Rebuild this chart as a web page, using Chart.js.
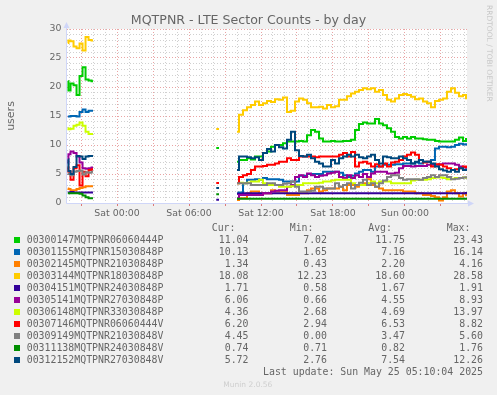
<!DOCTYPE html>
<html><head><meta charset="utf-8">
<script src="https://cdn.jsdelivr.net/npm/chart.js@4/dist/chart.umd.min.js"></script>
<style>
html,body{margin:0;padding:0;background:#f0f0f0;}
#wrap{position:relative;width:497px;height:395px;overflow:hidden;background:#f0f0f0;}
canvas{position:absolute;left:0;top:0;}
.t{position:absolute;white-space:pre;color:#666;}
.mono{font-family:"DejaVu Sans Mono",monospace;font-size:9.9px;line-height:12px;}
.sq{position:absolute;width:6px;height:6px;}
</style></head><body>
<div id="wrap">
<canvas id="c" width="497" height="395"></canvas>
<div class="t" style="left:0;width:497px;text-align:center;top:12px;font-family:'DejaVu Sans';font-size:12.6px;line-height:15px;">MQTPNR - LTE Sector Counts - by day</div>
<div class="t" style="left:493.5px;top:5px;transform-origin:0 0;transform:rotate(90deg);font-family:'DejaVu Sans';font-size:7.5px;line-height:9px;color:#c8c8c8;">RRDTOOL / TOBI OETIKER</div>
<div id="legend"></div>
<div class="t" style="left:223.3px;top:380px;font-family:'DejaVu Sans';font-size:7.5px;line-height:9px;color:#cfcfcf;">Munin 2.0.56</div>
</div>
<script>
// hours relative to Sat 00:00 (gaps between the three runs of data use null values)
const times = [-4.1,-4,-3.75,-3.5,-3.25,-3,-2.75,-2.5,-2.25,-2, 3, 8.27,8.5, 9,
 10,10.33,10.67,11,11.33,11.67,12,12.33,12.67,13,13.33,13.67,14,14.33,14.67,15,15.33,15.67,16,16.33,16.67,17,17.33,17.67,18,18.33,18.67,19,19.33,19.67,20,20.33,20.67,21,
 21.33,21.67,22,22.33,22.67,23,23.33,23.67,24,24.33,24.67,25,25.33,25.67,26,26.33,26.67,27,27.33,27.67,28,28.33,28.67,29,29.17];

const seriesNames = ["00300147MQTPNR06060444P","00301155MQTPNR15030848P","00302145MQTPNR21030848P","00303144MQTPNR18030848P","00304151MQTPNR24030848P","00305141MQTPNR27030848P","00306148MQTPNR33030848P","00307146MQTPNR06060444V","00309149MQTPNR21030848V","00311138MQTPNR24030848V","00312152MQTPNR27030848V"];
const seriesColors = ["#00CC00","#0066B3","#FF8000","#FFCC00","#330099","#990099","#CCFF00","#FF0000","#808080","#008F00","#00487D"];

const s00300147 = [21.0,19.4,20.6,20.3,18.6,21.9,23.4,21.3,21.1,21.0, null, 9.5,9.5, null,
 7.1,7.4,7.4,7.7,7.5,8.0,8.0,8.6,8.9,9.7,10.0,10.0,10.3,10.6,10.6,10.6,10.7,10.6,11.7,12.6,12.3,11.1,10.6,10.6,10.7,10.6,10.6,10.7,10.7,10.9,12.6,13.6,13.9,13.7,
 13.7,14.5,13.7,13.4,12.9,12.3,11.4,11.1,11.4,11.1,11.4,11.1,11.1,11.0,10.9,10.9,10.7,10.6,10.6,10.6,10.6,10.9,11.3,10.7,11.04];
const s00301155 = [14.9,14.9,15.0,15.0,14.9,15.7,16.1,15.7,15.9,15.9, null, null,null, null,
 1.7,1.8,3.4,4.0,4.0,4.1,4.0,4.3,4.1,4.1,4.1,4.0,3.7,3.7,3.7,3.7,4.7,4.7,5.0,5.0,5.0,5.0,5.4,5.4,5.4,5.4,5.2,4.8,4.5,4.7,5.1,5.4,5.7,5.7,
 5.4,6.3,6.3,6.6,6.6,6.6,6.7,6.7,6.8,6.8,6.8,7.0,6.8,7.1,7.1,7.4,9.4,9.7,9.7,9.6,9.7,10.0,10.2,10.1,10.13];
const s00302145 = [2.5,2.4,2.2,2.2,2.4,2.6,2.7,2.9,2.9,2.9, null, null,null, null,
 0.5,0.8,0.8,1.7,2.0,2.0,1.7,1.7,1.7,2.2,2.0,2.0,2.0,1.4,1.4,1.4,1.7,1.7,2.2,2.5,2.5,2.0,2.2,2.5,2.5,2.5,2.8,2.2,3.1,3.1,2.8,3.1,3.4,4.1,
 3.1,2.8,2.5,2.2,2.2,2.2,2.2,2.2,2.0,2.0,2.0,1.7,1.7,1.4,1.4,1.2,1.0,0.45,1.0,2.0,2.2,1.7,1.1,1.7,1.34];
const s00303144 = [27.6,28.0,27.9,27.0,26.7,27.5,26.3,28.6,28.1,28.0, null, 12.76,12.76, null,
 12.3,15.2,16.0,16.5,16.9,17.5,16.9,17.2,17.6,17.4,17.9,17.8,18.2,15.7,15.9,17.5,18.0,17.8,17.2,16.5,16.5,16.6,16.3,16.9,16.5,16.7,17.8,17.8,18.4,18.9,19.2,19.5,19.8,19.6,
 19.8,19.2,19.5,18.6,17.8,17.5,18.0,18.6,18.8,18.6,18.3,17.9,18.0,17.5,17.2,16.5,17.6,17.8,18.0,19.2,19.8,19.0,18.4,18.6,18.08];
const s00304151 = [1.8,1.8,1.9,1.8,1.8,1.8,1.8,1.8,1.8,1.8, null, 0.58,0.58, null,
 1.6,1.6,1.7,1.7,1.7,1.7,1.7,1.7,1.7,1.7,1.7,1.7,1.7,1.7,1.7,1.7,1.7,1.7,1.7,1.7,1.7,1.7,1.7,1.7,1.7,1.7,1.7,1.7,1.7,1.7,1.7,1.7,1.7,1.7,
 1.7,1.7,1.7,1.7,1.7,1.7,1.7,1.7,1.7,1.7,1.7,1.7,1.7,1.7,1.7,1.7,1.7,1.7,1.7,1.7,1.7,1.7,1.7,1.7,1.71];
const s00305141 = [6.8,8.4,8.9,8.6,8.0,7.0,6.0,5.9,6.0,6.1, null, null,null, null,
 0.8,1.4,1.4,1.4,1.4,1.4,1.4,1.7,1.7,2.0,2.1,2.2,2.2,2.8,3.1,4.5,4.8,4.5,5.1,4.8,4.5,4.7,4.8,5.1,5.2,5.4,4.5,4.3,4.8,4.3,4.8,4.5,5.0,4.5,
 5.1,5.4,5.4,5.4,5.1,5.1,5.2,6.0,6.4,6.4,6.3,6.4,6.4,6.4,6.6,6.6,6.6,6.7,6.8,6.8,6.8,6.6,6.3,6.1,6.06];
const s00306148 = [12.9,12.7,12.8,13.3,13.5,13.9,13.3,12.3,11.9,11.9, null, null,null, null,
 3.4,3.5,3.4,3.5,3.7,3.7,4.0,3.4,3.1,3.1,3.1,2.8,2.8,2.8,2.9,3.1,3.1,3.4,3.4,3.4,3.4,3.5,3.7,3.7,3.9,4.0,4.0,4.0,4.0,3.4,3.1,3.1,3.1,3.4,
 3.7,3.4,3.7,3.7,3.7,3.4,3.4,3.4,3.4,3.4,3.9,4.0,4.0,4.0,4.1,4.3,4.4,4.4,4.3,4.1,4.2,4.3,4.3,4.4,4.36];
const s00307146 = [6.3,5.4,4.0,6.0,6.5,3.0,5.4,4.6,5.7,5.8, null, 3.45,3.45, null,
 3.4,4.5,4.8,5.0,5.7,6.3,6.3,6.4,6.6,6.6,6.8,7.1,7.1,7.7,7.4,7.4,8.0,8.0,8.0,8.0,7.9,8.0,8.0,8.0,8.0,8.0,8.3,8.6,8.0,8.8,6.3,7.0,7.1,6.8,
 6.3,6.7,6.3,6.8,6.3,7.0,7.1,7.4,8.0,8.3,8.7,8.3,7.4,7.0,7.1,6.3,6.7,6.6,6.3,6.0,5.7,5.8,6.0,6.3,6.20];
const s00309149 = [5.1,5.0,4.8,5.4,5.5,5.6,4.9,5.3,5.2,5.4, null, null,null, null,
 3.4,3.4,3.4,3.4,3.1,3.1,3.1,3.1,3.4,3.4,3.1,3.1,3.3,3.4,3.7,2.8,2.0,2.0,2.0,2.1,2.8,2.8,2.5,2.5,2.5,3.4,2.8,3.1,3.4,2.5,3.1,3.5,4.0,3.1,
 3.4,2.8,3.4,3.9,4.5,4.8,4.8,4.3,4.0,4.1,4.1,4.1,4.0,4.3,4.5,4.8,4.5,4.8,4.8,4.5,4.1,4.2,4.3,4.4,4.45];
const s00311138 = [1.7,1.7,1.7,1.7,1.7,1.6,1.3,1.0,0.8,0.8, null, 1.5,1.5, null,
 0.72,0.74,0.74,0.74,0.74,0.74,0.74,0.74,0.74,0.74,0.74,0.74,0.74,0.74,0.74,0.74,0.74,0.74,0.74,0.74,0.74,0.74,0.74,0.74,0.74,0.74,0.74,0.74,0.74,0.74,0.74,0.74,0.74,0.74,
 0.74,0.74,0.74,0.74,0.74,0.74,0.74,0.74,0.74,0.74,0.74,0.74,0.74,0.74,0.74,0.74,0.74,0.74,0.74,0.74,0.74,0.74,0.74,0.74,0.74];
const s00312152 = [7.5,5.5,5.0,6.2,8.1,8.0,7.6,8.0,8.1,8.1, null, 2.6,2.6, null,
 5.7,8.0,8.0,7.9,7.7,7.9,7.4,8.6,9.3,8.9,10.0,9.6,9.4,10.9,12.3,9.1,8.1,8.0,8.3,7.7,7.1,6.8,6.3,6.3,7.4,6.8,7.7,8.0,8.3,8.0,8.3,7.9,7.7,8.0,
 8.3,7.4,6.8,8.0,7.9,7.7,7.7,8.0,7.7,7.4,6.8,7.1,7.4,7.1,7.1,6.8,6.3,5.8,5.6,5.4,5.7,5.4,6.0,5.7,5.72];

const seriesValues = [s00300147,s00301155,s00302145,s00303144,s00304151,s00305141,s00306148,s00307146,s00309149,s00311138,s00312152];

const curVals = ["11.04","10.13","1.34","18.08","1.71","6.06","4.36","6.20","4.45","0.74","5.72"];
const minVals = ["7.02","1.65","0.43","12.23","0.58","0.66","2.68","2.94","0.00","0.71","2.76"];
const avgVals = ["11.75","7.16","2.20","18.60","1.67","4.55","4.69","6.53","3.47","0.82","7.54"];
const maxVals = ["23.43","16.14","4.16","28.58","1.91","8.93","13.97","8.82","5.60","1.76","12.26"];
const lastUpdate = "Last update: Sun May 25 05:10:04 2025";

const xTickHours = [-4,-3,-2,-1,0,1,2,3,4,5,6,7,8,9,10,11,12,13,14,15,16,17,18,19,20,21,22,23,24,25,26,27,28,29];
const xTickLabels = {0:"Sat 00:00",6:"Sat 06:00",12:"Sat 12:00",18:"Sat 18:00",24:"Sun 00:00"};
const yTickValues = [0,1,2,3,4,5,6,7,8,9,10,11,12,13,14,15,16,17,18,19,20,21,22,23,24,25,26,27,28,29,30];

// ----- legend (HTML text) -----
const lg = document.getElementById('legend');
function addText(txt, cls, style){ const d=document.createElement('div'); d.className='t '+cls; d.textContent=txt; d.setAttribute('style',style); lg.appendChild(d); }
const colRight = [248.5, 327, 405, 483];
const headRight = [235.5, 313.5, 392, 470.5];
["Cur:","Min:","Avg:","Max:"].forEach((h,i)=>addText(h,'mono',`top:222px;right:${497-headRight[i]}px;`));
seriesNames.forEach((n,i)=>{
  const top = 234 + 12*i;
  const sq=document.createElement('div'); sq.className='sq'; sq.style.left='14px'; sq.style.top=(top+3)+'px'; sq.style.background=seriesColors[i]; lg.appendChild(sq);
  addText(n,'mono',`top:${top}px;left:26.7px;`);
  [curVals,minVals,avgVals,maxVals].forEach((arr,j)=>addText(arr[i],'mono',`top:${top}px;right:${497-colRight[j]}px;`));
});
addText(lastUpdate,'mono',`top:366px;right:${497-483}px;`);

// ----- chart -----
const datasets = seriesNames.map((n,i)=>({
  label:n,
  data: times.map((t,k)=>({x:t, y:seriesValues[i][k]})),
  borderColor: seriesColors[i], backgroundColor: seriesColors[i],
  borderWidth: 2, pointRadius: 0, stepped: 'middle', spanGaps:false,
  borderJoinStyle:'miter', borderCapStyle:'butt', fill:false,
  order: seriesNames.length - i
}));

const AX = '#CFD6F8';
const muninPlugin = {
  id:'munin',
  beforeDraw(c){
    const a=c.chartArea, g=c.ctx; g.save(); g.fillStyle='#ffffff';
    g.fillRect(a.left,a.top,a.right-a.left,a.bottom-a.top); g.restore();
  },
  afterDraw(c){
    const a=c.chartArea, g=c.ctx; g.save();
    g.strokeStyle=AX; g.fillStyle=AX; g.lineWidth=1;
    g.beginPath(); g.moveTo(a.left-0.5, a.bottom+0.5); g.lineTo(a.right+2, a.bottom+0.5); g.stroke();
    g.beginPath(); g.moveTo(a.left-0.5, a.bottom+0.5); g.lineTo(a.left-0.5, a.top-3); g.stroke();
    g.beginPath(); g.moveTo(a.right+7, a.bottom+0.5); g.lineTo(a.right+1, a.bottom-2.5); g.lineTo(a.right+1, a.bottom+3.5); g.closePath(); g.fill();
    g.beginPath(); g.moveTo(a.left-0.5, a.top-7); g.lineTo(a.left-3.5, a.top-1); g.lineTo(a.left+2.5, a.top-1); g.closePath(); g.fill();
    g.restore();
  }
};

const MINOR='rgba(150,150,150,0.45)', MAJOR='rgba(215,90,90,0.55)';
new Chart(document.getElementById('c'), {
  type:'line',
  data:{datasets},
  plugins:[muninPlugin],
  options:{
    responsive:false, animation:false, devicePixelRatio:1,
    layout:{padding:{left:0, top:29, right:30, bottom:172}},
    plugins:{legend:{display:false}, title:{display:false}, tooltip:{enabled:false}},
    scales:{
      x:{type:'linear', min:-4.17, max:29.17,
        afterBuildTicks(s){ s.ticks = xTickHours.map(v=>({value:v})); },
        afterFit(s){ s.height = 20; },
        ticks:{autoSkip:false, maxRotation:0, padding:2, color:'#666',
          font:{family:'"DejaVu Sans"', size:9.4},
          callback:v=> (xTickLabels[v] !== undefined ? xTickLabels[v] : '')},
        grid:{color:c=> (c.tick && c.tick.value%3===0) ? MAJOR : MINOR, lineWidth:1,
          drawTicks:true, tickLength:3, tickWidth:1,
          tickColor:c=> (c.tick && c.tick.value%3===0) ? 'rgba(215,90,90,0.8)' : 'rgba(0,0,0,0)'},
        border:{display:false, dash:[1,2]}
      },
      y:{min:0, max:30,
        afterBuildTicks(s){ s.ticks = yTickValues.map(v=>({value:v})); },
        afterFit(s){ s.width = 67; },
        ticks:{autoSkip:false, padding:5.5, color:'#666', font:{family:'"DejaVu Sans"', size:9.4},
          callback:v=> (v%5===0 ? String(v) : '')},
        grid:{color:c=> (c.tick && c.tick.value%5===0) ? MAJOR : MINOR, lineWidth:1, drawTicks:false},
        border:{display:false, dash:[1,2]},
        title:{display:true, text:'users', color:'#666', font:{family:'"DejaVu Sans"', size:11}, padding:{top:5,bottom:0}}
      }
    }
  }
});
</script>
</body></html>
